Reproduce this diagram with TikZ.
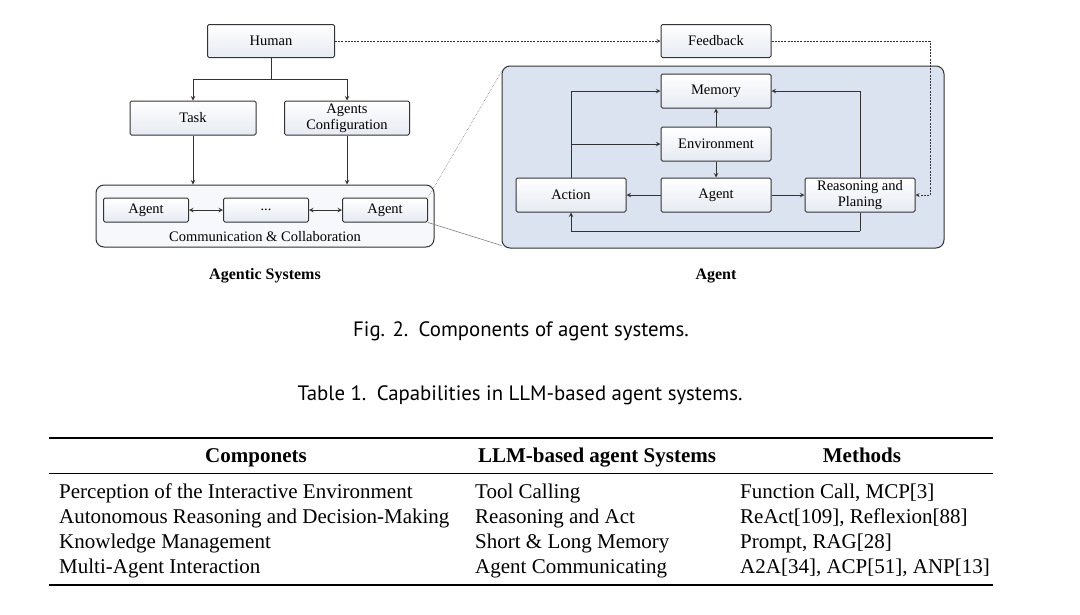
\documentclass[tikz,border=0pt]{standalone}
\usepackage{fontspec}
\setmainfont{Liberation Serif}
\newfontfamily\capfont{PT Sans}
\usepackage{xcolor}
\usepackage{tikz}
\usetikzlibrary{shapes,positioning}
\definecolor{agentbg}{HTML}{DCE3F0}
\definecolor{sysbg}{HTML}{F7F8FB}
\definecolor{boxbot}{HTML}{E6EAF2}
\definecolor{linec}{HTML}{333333}
\tikzset{blk/.style={rectangle,draw=linec,line width=1pt,rounded corners=1.5pt,top color=white,bottom color=boxbot,minimum width=110pt,minimum height=34pt,inner sep=0pt,align=center,font=\fontsize{14.5}{16}\selectfont}}
\tikzset{grp/.style={rectangle,draw=linec,line width=1pt,rounded corners=8pt}}
\tikzset{lnk/.style={draw=linec,line width=1pt}}
\tikzset{fb/.style={draw=linec,line width=0.8pt,dash pattern=on 2pt off 1.2pt}}
\tikzset{cell/.style={inner sep=0pt,font=\fontsize{21}{24}\selectfont}}

\begin{document}
\begin{tikzpicture}[>=stealth,x=1pt,y=-1pt]
        \useasboundingbox[fill=white] (0,0) rectangle (1080,614);

        % agentic systems
        \node[grp,fill=sysbg,minimum width=338pt,minimum height=62pt] (sys) at (265,216) {};
        \node[blk,minimum width=127pt,minimum height=33pt] (human) at (271,41) {Human};
        \node[blk,minimum width=126pt] (task) at (193,118) {Task};
        \node[blk,minimum width=125pt] (conf) at (347,118) {Agents\\Configuration};
        \node[blk,minimum width=85pt,minimum height=24pt] (ag1) at (146,210) {Agent};
        \node[blk,minimum width=85pt,minimum height=24pt] (dots) at (266,210) {...};
        \node[blk,minimum width=85pt,minimum height=24pt] (ag2) at (385,210) {Agent};
        \node[font=\fontsize{14.5}{16}\selectfont] (comm) at (265,237) {Communication \& Collaboration};
        \node[font=\bfseries\fontsize{16}{18}\selectfont] (systitle) at (265,276) {Agentic Systems};

        \coordinate (split) at (271,79);
        \draw[lnk] (human) -- (split);
        \draw[lnk,->] (split) -| (task);
        \draw[lnk,->] (split) -| (conf);
        \draw[lnk,->] (task) -- (task |- sys.north);
        \draw[lnk,->] (conf) -- (conf |- sys.north);
        \draw[lnk,<->] (ag1) -- (dots);
        \draw[lnk,<->] (dots) -- (ag2);

        % agent
        \node[grp,fill=agentbg,minimum width=442pt,minimum height=182pt] (agbox) at (723,157) {};
        \node[blk,minimum height=33pt] (feed) at (716,41) {Feedback};
        \node[blk] (mem) at (716,91) {Memory};
        \node[blk] (env) at (716,144) {Environment};
        \node[blk] (agt) at (716,195) {Agent};
        \node[blk] (act) at (571,195) {Action};
        \node[blk] (reason) at (860,195) {Reasoning and\\Planing};
        \node[font=\bfseries\fontsize{16}{18}\selectfont] (agtitle) at (716,276) {Agent};

        \draw[draw=gray,line width=0.6pt,densely dotted] (ag2.north east) -- ([yshift=-6pt]agbox.north west);
        \draw[draw=gray,line width=0.6pt] (ag2.south east) -- ([yshift=3pt]agbox.south west);

        \coordinate (fbturn) at (930,41);
        \coordinate (loop) at (860,231);
        \draw[fb,->] (human) -- (feed);
        \draw[fb,->] (feed) -- (fbturn) |- (reason);
        \draw[lnk,->] (env) -- (mem);
        \draw[lnk,->] (env) -- (agt);
        \draw[lnk,->] (agt) -- (act);
        \draw[lnk,->] (agt) -- (reason);
        \draw[lnk,->] (act) |- (mem);
        \draw[lnk,->] (act |- env) -- (env);
        \draw[lnk,->] (reason) |- (mem);
        \draw[lnk] (reason) -- (loop);
        \draw[lnk,->] (loop) -| (act);

        % captions
        \node[font=\capfont\fontsize{20.8}{24}\selectfont] (figcap) at (521,331) {Fig. 2.\enspace Components of agent systems.};
        \node[font=\capfont\fontsize{20.8}{24}\selectfont] (tabcap) at (520,395) {Table 1.\enspace Capabilities in LLM-based agent systems.};

        % table
        \draw[line width=1.6pt] (49,438) -- (993,438);
        \draw[line width=0.8pt] (49,473) -- (993,473);
        \draw[line width=1.6pt] (49,585) -- (993,585);
        \node[cell,font=\bfseries\fontsize{21}{24}\selectfont,anchor=mid] (h1) at (256,460) {Componets};
        \node[cell,font=\bfseries\fontsize{21}{24}\selectfont,anchor=mid] (h2) at (597,460) {LLM-based agent Systems};
        \node[cell,font=\bfseries\fontsize{21}{24}\selectfont,anchor=mid] (h3) at (862,460) {Methods};
        \node[cell,anchor=mid west] (r1c1) at (59,496) {Perception of the Interactive Environment};
        \node[cell,anchor=mid west] (r1c2) at (475,496) {Tool Calling};
        \node[cell,anchor=mid west] (r1c3) at (740,496) {Function Call, MCP[3]};
        \node[cell,anchor=mid west] (r2c1) at (59,521) {Autonomous Reasoning and Decision-Making};
        \node[cell,anchor=mid west] (r2c2) at (475,521) {Reasoning and Act};
        \node[cell,anchor=mid west] (r2c3) at (740,521) {ReAct[109], Reflexion[88]};
        \node[cell,anchor=mid west] (r3c1) at (59,546) {Knowledge Management};
        \node[cell,anchor=mid west] (r3c2) at (475,546) {Short \& Long Memory};
        \node[cell,anchor=mid west] (r3c3) at (740,546) {Prompt, RAG[28]};
        \node[cell,anchor=mid west] (r4c1) at (59,571) {Multi-Agent Interaction};
        \node[cell,anchor=mid west] (r4c2) at (475,571) {Agent Communicating};
        \node[cell,anchor=mid west] (r4c3) at (740,571) {A2A[34], ACP[51], ANP[13]};
    \end{tikzpicture}
\end{document}
